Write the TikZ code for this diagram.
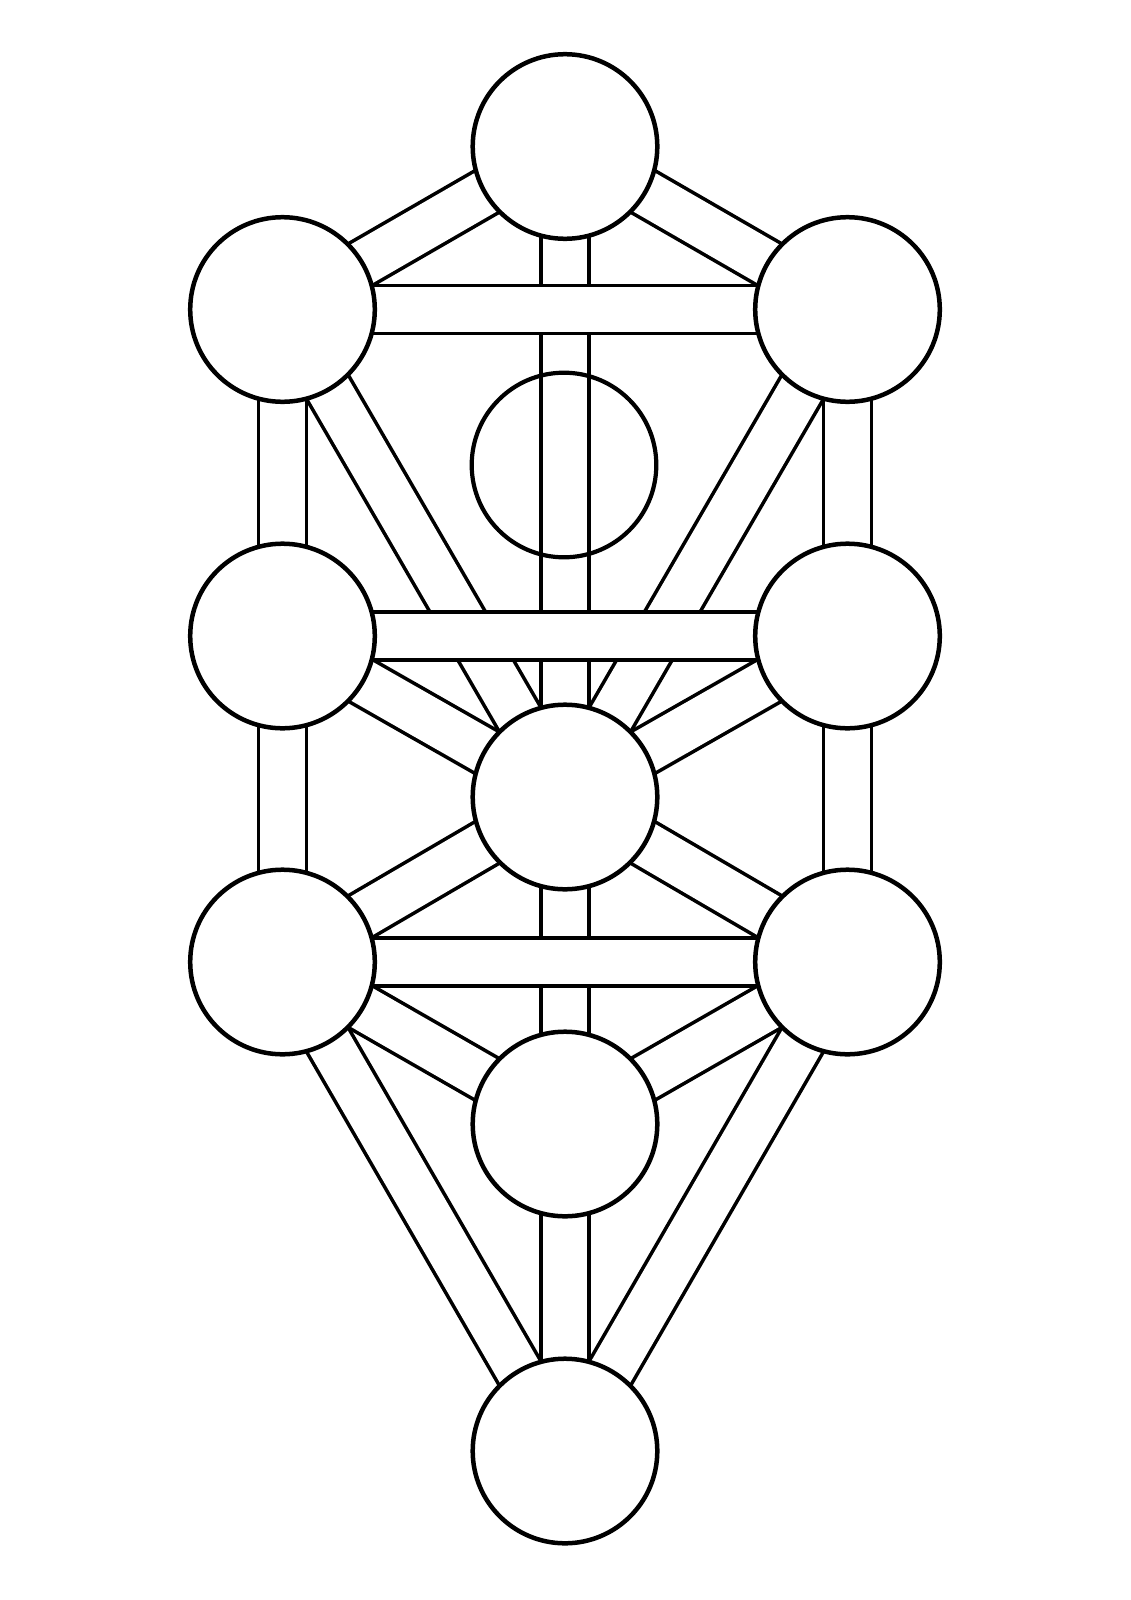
\documentclass[tikz,border=0pt]{standalone}
\usetikzlibrary{backgrounds}
\tikzset{
  sefira/.style={circle, draw=black, fill=white, line width=4.5pt, minimum size=184.6pt, inner sep=0pt},
  hidden/.style={sefira, fill=none, line width=4.2pt},
  channel/.style={draw=black, line width=3.6pt, double=white, double distance=44.4pt},
}

\begin{document}
\begin{tikzpicture}[x=1pt, y=-1pt]
    \useasboundingbox (0,0) rectangle (1131,1600);

    % The ten spheres
    \node[sefira] (keter)   at (565,146.5) {};
    \node[sefira] (chokmah) at (847.5,309.5) {};
    \node[sefira] (binah)   at (282.5,309.5) {};
    \node[sefira] (chesed)  at (847.5,636) {};
    \node[sefira] (gevurah) at (282.5,636) {};
    \node[sefira] (tiferet) at (565,797) {};
    \node[sefira] (netzach) at (847.5,962) {};
    \node[sefira] (hod)     at (282.5,962) {};
    \node[sefira] (yesod)   at (565,1124) {};
    \node[sefira] (malkuth) at (565,1451) {};

    % The hidden sphere, open over the middle path
    \node[hidden] (daat) at (564,465) {};

    \begin{scope}[on background layer]
        % Diagonal and vertical paths
        \draw[channel] (keter.center) -- (chokmah.center);
        \draw[channel] (keter.center) -- (binah.center);
        \draw[channel] (keter.center) -- (tiferet.center);
        \draw[channel] (chokmah.center) -- (chesed.center);
        \draw[channel] (binah.center) -- (gevurah.center);
        \draw[channel] (chokmah.center) -- (tiferet.center);
        \draw[channel] (binah.center) -- (tiferet.center);
        \draw[channel] (chesed.center) -- (tiferet.center);
        \draw[channel] (gevurah.center) -- (tiferet.center);
        \draw[channel] (chesed.center) -- (netzach.center);
        \draw[channel] (gevurah.center) -- (hod.center);
        \draw[channel] (tiferet.center) -- (netzach.center);
        \draw[channel] (tiferet.center) -- (hod.center);
        \draw[channel] (tiferet.center) -- (yesod.center);
        \draw[channel] (netzach.center) -- (yesod.center);
        \draw[channel] (hod.center) -- (yesod.center);
        \draw[channel] (netzach.center) -- (malkuth.center);
        \draw[channel] (hod.center) -- (malkuth.center);
        \draw[channel] (yesod.center) -- (malkuth.center);

        % Horizontal paths lie over the others
        \draw[channel] (binah.center) -- (chokmah.center);
        \draw[channel] (gevurah.center) -- (chesed.center);
        \draw[channel] (hod.center) -- (netzach.center);
    \end{scope}
\end{tikzpicture}
\end{document}
